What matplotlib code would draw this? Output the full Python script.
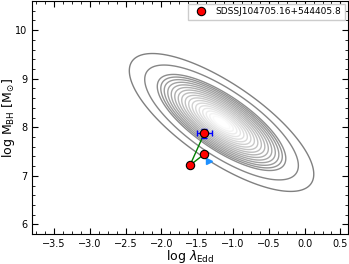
import numpy as np
import matplotlib
matplotlib.use("Agg")
import matplotlib.pyplot as plt
from matplotlib.ticker import AutoMinorLocator

pop_center = [-1.16, 8.10]      # log lambda_Edd, log M_BH
pop_sigma = [0.39, 0.43]
pop_rho = -0.75
pop_levels = [0.0043, 0.0228, 0.071, 0.094, 0.122, 0.157, 0.198, 0.246,
              0.301, 0.362, 0.430, 0.501, 0.576, 0.652, 0.726, 0.796,
              0.860, 0.914, 0.956]

# Object measurements
obj_name = "SDSSJ104705.16+544405.8"
obj_x = [-1.40, -1.60, -1.40]
obj_y = [7.88, 7.22, 7.45]
err_x = [0.10]
err_y = [0.09]
tri_x = [-1.33]
tri_y = [7.31]

fig = plt.figure(figsize=(3.49, 2.64), dpi=100)
ax = fig.add_axes([0.093, 0.113, 0.903, 0.883])

gx = np.linspace(-3.8, 0.6, 300)
gy = np.linspace(5.8, 10.6, 300)
X, Y = np.meshgrid(gx, gy)
dx = (X - pop_center[0]) / pop_sigma[0]
dy = (Y - pop_center[1]) / pop_sigma[1]
Z = np.exp(-(dx**2 - 2 * pop_rho * dx * dy + dy**2) / (2 * (1 - pop_rho**2)))
n = len(pop_levels)
greys = [str(v) for v in np.linspace(0.5, 0.98, n)]
ax.contour(X, Y, Z, levels=pop_levels, colors=greys, linewidths=1.0)

ax.plot(obj_x, obj_y, color="green", lw=1.0, zorder=3)
ax.errorbar(obj_x[:1], obj_y[:1], xerr=err_x, yerr=err_y, fmt="none",
            ecolor="blue", elinewidth=1.0, capsize=2, zorder=4)
ax.plot(tri_x, tri_y, marker=">", color="dodgerblue", ms=5, ls="none", zorder=4)
ax.plot(obj_x, obj_y, marker="o", ls="none", mfc="red", mec="black",
        mew=0.8, ms=6, zorder=5, label=obj_name)

ax.set_xlim(-3.8, 0.6)
ax.set_ylim(5.8, 10.6)
ax.set_xticks([-3.5, -3.0, -2.5, -2.0, -1.5, -1.0, -0.5, 0.0, 0.5])
ax.set_yticks([6, 7, 8, 9, 10])
ax.xaxis.set_minor_locator(AutoMinorLocator(4))
ax.yaxis.set_minor_locator(AutoMinorLocator(5))
ax.tick_params(which="both", direction="in", top=True, right=True, labelsize=7)
ax.tick_params(which="major", length=4)
ax.tick_params(which="minor", length=2)
ax.set_xlabel(r"log $\lambda_{\rm Edd}$", fontsize=9, labelpad=-0.5)
ax.set_ylabel(r"log M$_{\rm BH}$ [M$_{\odot}$]", fontsize=9, labelpad=-1.5)
ax.legend(loc="upper right", fontsize=6.5, handletextpad=0.6, borderpad=0.4,
          fancybox=False, framealpha=1, borderaxespad=0.3)

fig.savefig("out.png", dpi=100)
